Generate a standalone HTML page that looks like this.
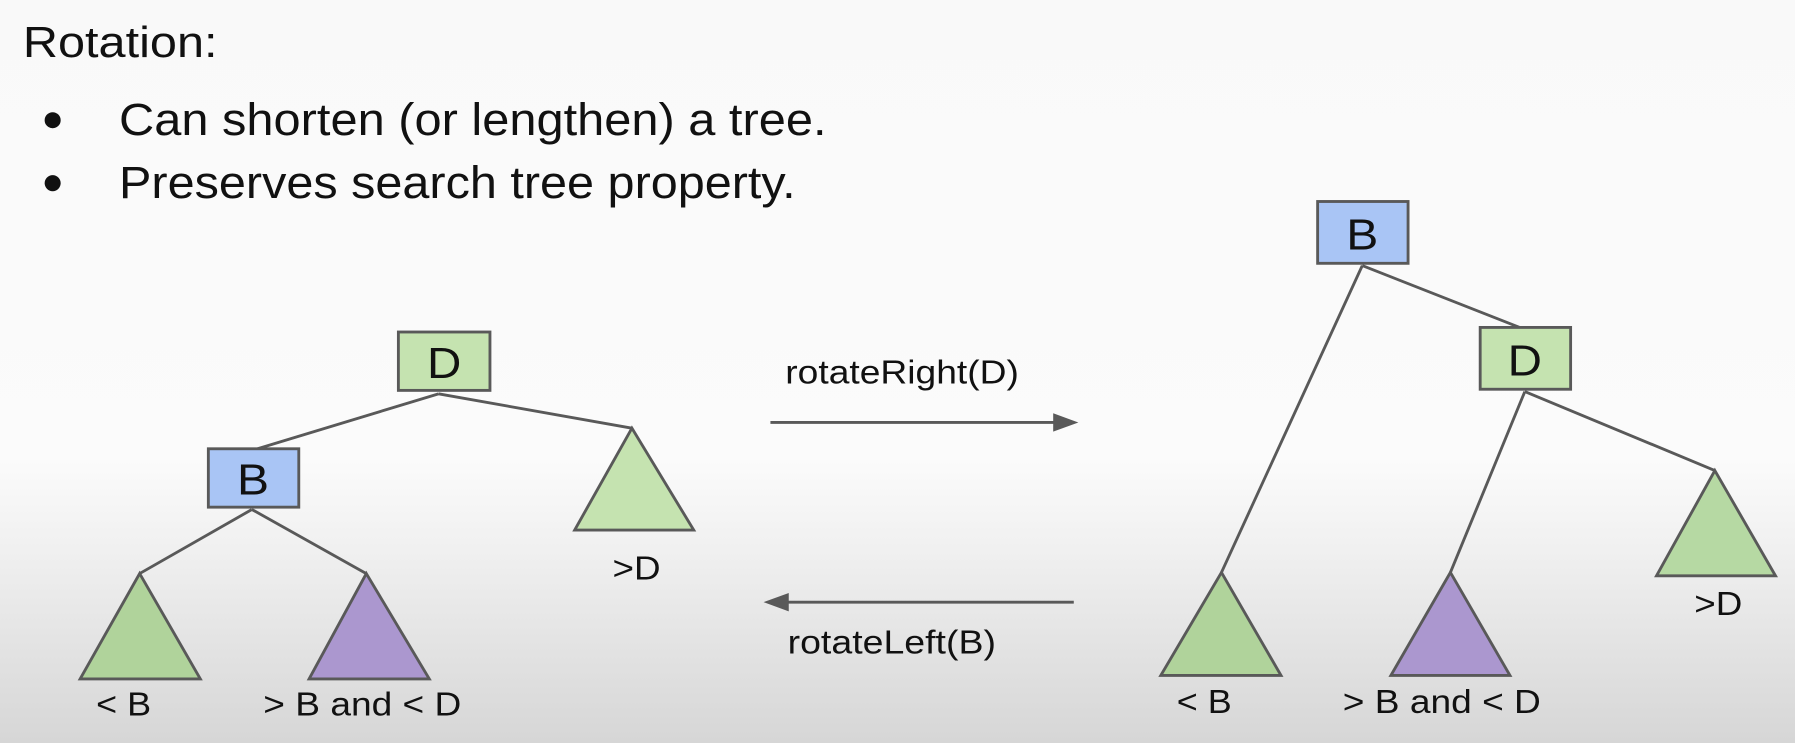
<!DOCTYPE html>
<html><head><meta charset="utf-8"><style>
html,body{margin:0;padding:0;}
body{width:1795px;height:743px;overflow:hidden;}
svg{display:block;}
</style></head><body>
<svg width="1795" height="743" viewBox="0 0 1568 649" preserveAspectRatio="none" xmlns="http://www.w3.org/2000/svg">
<defs>
<linearGradient id="bg" x1="0" y1="0" x2="0" y2="1">
<stop offset="0" stop-color="#f9f9f9"/>
<stop offset="0.62" stop-color="#fbfbfb"/>
<stop offset="0.75" stop-color="#efefef"/>
<stop offset="1" stop-color="#d6d6d6"/>
</linearGradient>
</defs>
<rect width="1568" height="649" fill="url(#bg)"/>
<g font-family="'Liberation Sans Narrow','Liberation Sans',sans-serif" fill="#111">
<text x="20" y="50" font-size="38" textLength="170" lengthAdjust="spacingAndGlyphs">Rotation:</text>
<circle cx="46" cy="105" r="7"/>
<circle cx="46" cy="160" r="7"/>
<text x="104" y="118" font-size="40" textLength="618" lengthAdjust="spacingAndGlyphs">Can shorten (or lengthen) a tree.</text>
<text x="104" y="173" font-size="40" textLength="591" lengthAdjust="spacingAndGlyphs">Preserves search tree property.</text>
</g>
<g stroke="#595959" stroke-width="2.5" fill="none">
<line x1="383" y1="344" x2="225" y2="392"/>
<line x1="383" y1="344" x2="552" y2="374"/>
<line x1="220" y1="445" x2="122" y2="501"/>
<line x1="220" y1="445" x2="320" y2="501"/>
<line x1="1190" y1="232" x2="1067" y2="500"/>
<line x1="1190" y1="232" x2="1330" y2="287"/>
<line x1="1332" y1="342" x2="1267" y2="500"/>
<line x1="1332" y1="342" x2="1498" y2="411"/>
<line x1="673" y1="369" x2="925" y2="369"/>
<line x1="938" y1="526" x2="683" y2="526"/>
</g>
<polygon points="942,369 920,361 920,377" fill="#595959"/>
<polygon points="667,526 689,518 689,534" fill="#595959"/>
<g stroke="#595959" stroke-width="2.5">
<rect x="348" y="290" width="80" height="51" fill="#c5e3b0"/>
<rect x="182" y="392" width="79" height="51" fill="#a9c5f5"/>
<rect x="1151" y="176" width="79" height="54" fill="#a9c5f5"/>
<rect x="1293" y="286" width="79" height="54" fill="#c5e3b0"/>
<polygon points="552,374 606,463 502,463" fill="#c5e3b0"/>
<polygon points="122,501 175,593 70,593" fill="#b0d39b"/>
<polygon points="320,501 375,593 270,593" fill="#ab97cf"/>
<polygon points="1067,500 1119,590 1014,590" fill="#b0d39b"/>
<polygon points="1267,500 1319,590 1215,590" fill="#ab97cf"/>
<polygon points="1498,411 1551,503 1447,503" fill="#b6d9a3"/>
</g>
<g font-family="'Liberation Sans',sans-serif" fill="#111">
<text x="373" y="330" font-size="38" textLength="30" lengthAdjust="spacingAndGlyphs">D</text>
<text x="207" y="432" font-size="38" textLength="28" lengthAdjust="spacingAndGlyphs">B</text>
<text x="1176" y="218" font-size="38" textLength="28" lengthAdjust="spacingAndGlyphs">B</text>
<text x="1317" y="328" font-size="38" textLength="30" lengthAdjust="spacingAndGlyphs">D</text>
<text x="535" y="506" font-size="29" textLength="42" lengthAdjust="spacingAndGlyphs">&gt;D</text>
<text x="84" y="625" font-size="29" textLength="48" lengthAdjust="spacingAndGlyphs">&lt; B</text>
<text x="230" y="625" font-size="29" textLength="173" lengthAdjust="spacingAndGlyphs">&gt; B and &lt; D</text>
<text x="1028" y="623" font-size="29" textLength="48" lengthAdjust="spacingAndGlyphs">&lt; B</text>
<text x="1173" y="623" font-size="29" textLength="173" lengthAdjust="spacingAndGlyphs">&gt; B and &lt; D</text>
<text x="1480" y="537" font-size="29" textLength="42" lengthAdjust="spacingAndGlyphs">&gt;D</text>
<text x="686" y="335" font-size="29" textLength="204" lengthAdjust="spacingAndGlyphs">rotateRight(D)</text>
<text x="688" y="571" font-size="29" textLength="182" lengthAdjust="spacingAndGlyphs">rotateLeft(B)</text>
</g>
</svg>
</body></html>
